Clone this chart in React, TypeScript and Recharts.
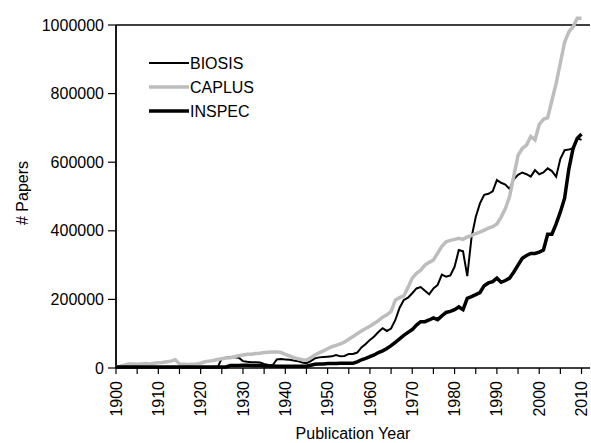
import React from 'react';
import { LineChart, Line, XAxis, YAxis, ReferenceLine, Label } from 'recharts';

const years = [
  1900, 1901, 1902, 1903, 1904, 1905, 1906, 1907, 1908, 1909,
  1910, 1911, 1912, 1913, 1914, 1915, 1916, 1917, 1918, 1919,
  1920, 1921, 1922, 1923, 1924, 1925, 1926, 1927, 1928, 1929,
  1930, 1931, 1932, 1933, 1934, 1935, 1936, 1937, 1938, 1939,
  1940, 1941, 1942, 1943, 1944, 1945, 1946, 1947, 1948, 1949,
  1950, 1951, 1952, 1953, 1954, 1955, 1956, 1957, 1958, 1959,
  1960, 1961, 1962, 1963, 1964, 1965, 1966, 1967, 1968, 1969,
  1970, 1971, 1972, 1973, 1974, 1975, 1976, 1977, 1978, 1979,
  1980, 1981, 1982, 1983, 1984, 1985, 1986, 1987, 1988, 1989,
  1990, 1991, 1992, 1993, 1994, 1995, 1996, 1997, 1998, 1999,
  2000, 2001, 2002, 2003, 2004, 2005, 2006, 2007, 2008, 2009,
  2010,
];

const biosis = [
  2000, 2000, 2000, 2000, 2000, 2000, 2000, 2000, 2000, 2000,
  2000, 2000, 2000, 2000, 2000, 2000, 2000, 2000, 2000, 2000,
  2000, 2000, 2000, 2000, 2000, 28000, 30000, 31000, 31000, 30000,
  20000, 18000, 17000, 17000, 16000, 12000, 9000, 8000, 25000, 26000,
  25000, 24000, 22000, 20000, 16000, 14000, 20000, 28000, 31000, 32000,
  33000, 34000, 38000, 34000, 35000, 41000, 41000, 45000, 60000, 70000,
  82000, 92000, 105000, 116000, 108000, 115000, 140000, 175000, 198000, 205000,
  218000, 232000, 236000, 225000, 215000, 232000, 242000, 272000, 266000, 270000,
  295000, 344000, 340000, 268000, 380000, 440000, 480000, 505000, 508000, 515000,
  548000, 540000, 535000, 522000, 550000, 563000, 570000, 565000, 558000, 577000,
  565000, 570000, 582000, 574000, 558000, 610000, 635000, 637000, 640000, 670000,
  665000,
];

const caplus = [
  3000, 5000, 8000, 12000, 12000, 11000, 12000, 13000, 12000, 14000,
  15000, 16000, 18000, 20000, 24000, 12000, 11000, 10000, 11000, 12000,
  14000, 18000, 20000, 22000, 25000, 27000, 29000, 30000, 33000, 36000,
  38000, 40000, 40000, 42000, 43000, 45000, 46000, 47000, 47000, 45000,
  40000, 35000, 30000, 27000, 24000, 23000, 30000, 38000, 44000, 50000,
  56000, 62000, 66000, 70000, 76000, 84000, 92000, 100000, 108000, 115000,
  122000, 130000, 138000, 148000, 155000, 165000, 198000, 205000, 210000, 235000,
  262000, 276000, 285000, 300000, 308000, 315000, 335000, 355000, 368000, 372000,
  375000, 378000, 375000, 382000, 386000, 392000, 396000, 402000, 408000, 412000,
  420000, 440000, 465000, 500000, 560000, 620000, 640000, 650000, 675000, 665000,
  710000, 725000, 730000, 780000, 830000, 890000, 950000, 980000, 995000, 1020000,
  1020000,
];

const inspec = [
  3000, 3000, 3000, 3000, 3000, 3000, 3000, 3000, 3000, 3000,
  3000, 3000, 3000, 3000, 3000, 3000, 3000, 3000, 3000, 3000,
  3000, 3000, 3000, 3000, 3000, 3000, 3000, 7000, 7000, 7000,
  8000, 8000, 7000, 7000, 7000, 6000, 6000, 6000, 5000, 5000,
  5000, 5000, 5000, 5000, 5000, 5000, 8000, 11000, 12000, 12000,
  13000, 13000, 13000, 14000, 14000, 14000, 14000, 18000, 24000, 28000,
  33000, 38000, 45000, 50000, 57000, 65000, 75000, 85000, 95000, 104000,
  112000, 125000, 135000, 135000, 140000, 146000, 141000, 152000, 162000, 165000,
  170000, 178000, 170000, 203000, 208000, 214000, 220000, 240000, 248000, 252000,
  262000, 250000, 255000, 262000, 280000, 300000, 320000, 328000, 334000, 334000,
  338000, 344000, 390000, 390000, 420000, 455000, 495000, 580000, 640000, 670000,
  682000,
];

const xTicks = [
  1900, 1905, 1910, 1915, 1920, 1925, 1930, 1935, 1940, 1945, 1950, 1955,
  1960, 1965, 1970, 1975, 1980, 1985, 1990, 1995, 2000, 2005, 2010,
];
const yTicks = [0, 200000, 400000, 600000, 800000, 1000000];

const series = [
  { key: 'BIOSIS', color: '#000000', width: 2 },
  { key: 'CAPLUS', color: '#bdbdbd', width: 3.5 },
  { key: 'INSPEC', color: '#000000', width: 3.5 },
];

const data = years.map((year, i) => ({
  year,
  BIOSIS: biosis[i],
  CAPLUS: caplus[i],
  INSPEC: inspec[i],
}));

const font = 'Liberation Sans, Arial, sans-serif';

// rotated year labels, only on the decades
const YearTick = (props: any) => {
  const { x, payload } = props;
  if (payload.value % 10 !== 0) return null;
  return (
    <text
      x={x}
      y={381}
      transform={`rotate(-90 ${x} 381)`}
      textAnchor="end"
      dy="0.35em"
      fontSize={16}
      fontFamily={font}
      fill="#000"
    >
      {payload.value}
    </text>
  );
};

// legend drawn inside the plot like the excel one
const LegendBox = () => (
  <g>
    {series.map((s, i) => (
      <g key={s.key}>
        <line x1={149} x2={189} y1={63 + i * 24} y2={63 + i * 24} stroke={s.color} strokeWidth={s.width} />
        <text x={190} y={63 + i * 24} dy="0.35em" fontSize={16} fontFamily={font} fill="#000">
          {s.key}
        </text>
      </g>
    ))}
  </g>
);

export default function App() {
  return (
    <div style={{ position: 'absolute', left: 0, top: 0, background: '#fff' }}>
      <LineChart
        width={591}
        height={443}
        data={data}
        margin={{ top: 14.71, right: 1, bottom: 15, left: 16 }}
      >
        <XAxis
          dataKey="year"
          type="number"
          domain={[1900, 2012]}
          ticks={xTicks}
          interval={0}
          height={60}
          tick={<YearTick />}
          tickSize={6}
          axisLine={{ stroke: '#000', strokeWidth: 1.5 }}
          tickLine={{ stroke: '#000', strokeWidth: 1.2 }}
        >
          <Label
            content={() => (
              <text x={353} y={433} textAnchor="middle" dy="0.35em" fontSize={16} fontFamily={font} fill="#000">
                Publication Year
              </text>
            )}
          />
        </XAxis>
        <YAxis
          type="number"
          domain={[0, 1030000]}
          ticks={yTicks}
          width={100}
          axisLine={false}
          tickSize={8}
          tickMargin={4}
          tickLine={{ stroke: '#000', strokeWidth: 1.2 }}
          tick={{ fill: '#000', fontSize: 16, fontFamily: font }}
        >
          <Label
            content={() => (
              <g>
                <text
                  x={22}
                  y={193}
                  transform="rotate(-90 22 193)"
                  textAnchor="middle"
                  dy="0.35em"
                  fontSize={16}
                  fontFamily={font}
                  fill="#000"
                >
                  # Papers
                </text>
                <LegendBox />
              </g>
            )}
          />
        </YAxis>
        <ReferenceLine
          segment={[{ x: 1900, y: 0 }, { x: 1900, y: 1000000 }]}
          stroke="#000"
          strokeWidth={1.8}
        />
        <ReferenceLine
          segment={[{ x: 1900, y: 1000000 }, { x: 2012, y: 1000000 }]}
          stroke="#000"
          strokeWidth={1.5}
        />
        {series.map((s) => (
          <Line
            key={s.key}
            dataKey={s.key}
            type="linear"
            stroke={s.color}
            strokeWidth={s.width}
            dot={false}
            isAnimationActive={false}
          />
        ))}
      </LineChart>
    </div>
  );
}
